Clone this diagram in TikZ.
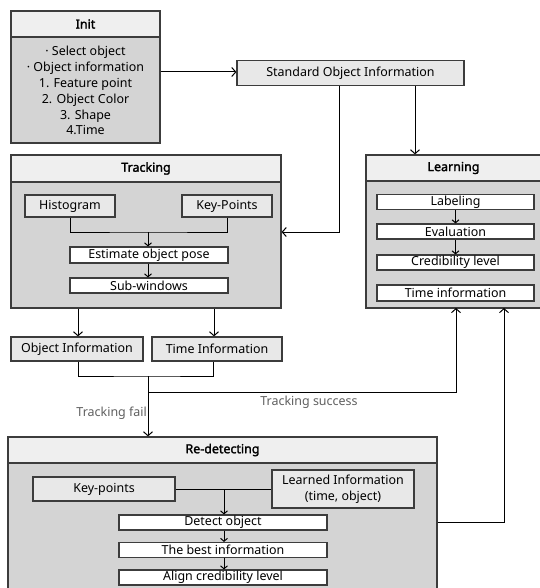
\documentclass[tikz,border=0pt]{standalone}
\usepackage{fontspec}
\setmainfont{Noto Sans}[AutoFakeBold=2]
\usetikzlibrary{arrows.meta}
\definecolor{titlefill}{HTML}{EFEFEF}
\definecolor{bodyfill}{HTML}{D4D4D4}
\definecolor{smallfill}{HTML}{E8E8E8}
\definecolor{edge}{HTML}{3C3C3C}
\definecolor{labelgray}{HTML}{606060}
\begin{document}
\begin{tikzpicture}[x=1bp,y=-1bp,
  every node/.style={font=\fontsize{12.5}{16}\selectfont, inner sep=0pt, text=black},
  frame/.style={draw=edge, line width=1.2bp, rectangle, inner sep=0pt},
  titlebox/.style={frame, fill=titlefill, font=\fontsize{12.5}{14}\selectfont\bfseries},
  bodybox/.style={frame, fill=bodyfill},
  graybox/.style={frame, fill=smallfill},
  whitebox/.style={frame, fill=white, line width=1.1bp},
  conn/.style={draw=black, line width=1bp},
  arr/.style={conn, -{Straight Barb[length=4bp,width=9bp]}},
  sarr/.style={conn, -{Straight Barb[length=3bp,width=7bp]}},
  lab/.style={text=labelgray}
]
\clip (0,0) rectangle (540,588);
\fill[white] (0,0) rectangle (540,588);

% Init
\node[bodybox, minimum width=149bp, minimum height=106bp] (initbody) at (85.5,90) {};
\node[titlebox, minimum width=149bp, minimum height=26bp] (inittitle) at (85.5,24) {Init};
\node[align=center] (inittext) at (85.5,90.5) {· Select object\\ · Object information\\ 1. Feature point\\ 2. Object Color\\ 3. Shape\\ 4.Time};

% Standard object information
\node[graybox, minimum width=227bp, minimum height=25bp] (std) at (350.5,73) {Standard Object Information};

% Tracking
\node[bodybox, minimum width=270bp, minimum height=126bp] (trbody) at (146,245) {};
\node[titlebox, minimum width=270bp, minimum height=27bp] (trtitle) at (146,168.5) {Tracking};
\node[graybox, minimum width=90bp, minimum height=22bp] (hist) at (70,206) {Histogram};
\node[graybox, minimum width=90bp, minimum height=22bp] (kp) at (227,206) {Key-Points};
\node[whitebox, minimum width=158bp, minimum height=16bp] (est) at (149,255) {Estimate object pose};
\node[whitebox, minimum width=158bp, minimum height=15bp] (sub) at (149,285.5) {Sub-windows};

% Learning
\node[bodybox, minimum width=175bp, minimum height=127bp] (lbody) at (453.5,244.5) {};
\node[titlebox, minimum width=175bp, minimum height=26bp] (ltitle) at (453.5,168) {Learning};
\node[whitebox, minimum width=157bp, minimum height=15bp] (labl) at (455.5,202) {Labeling};
\node[whitebox, minimum width=157bp, minimum height=15bp] (eval) at (455.5,231.5) {Evaluation};
\node[whitebox, minimum width=157bp, minimum height=15bp] (cred) at (455.5,262.5) {Credibility level};
\node[whitebox, minimum width=157bp, minimum height=16bp] (timei) at (455.5,293) {Time information};

% Tracking outputs
\node[graybox, minimum width=132bp, minimum height=24bp] (oi) at (77,349) {Object Information};
\node[graybox, minimum width=130bp, minimum height=24bp] (ti) at (217,349) {Time Information};

% Re-detecting
\node[bodybox, minimum width=429bp, minimum height=140bp] (rbody) at (222.5,533) {};
\node[titlebox, minimum width=429bp, minimum height=26bp] (rtitle) at (222.5,450) {Re-detecting};
\node[graybox, minimum width=142bp, minimum height=24bp] (rkp) at (104,489) {Key-points};
\node[graybox, minimum width=142bp, minimum height=38bp, align=center] (learned) at (343,489) {Learned Information\\(time, object)};
\node[whitebox, minimum width=208bp, minimum height=15bp] (det) at (223,522.5) {Detect object};
\node[whitebox, minimum width=208bp, minimum height=15bp] (best) at (223,550) {The best information};
\node[whitebox, minimum width=208bp, minimum height=15bp] (align) at (223,577.5) {Align credibility level};

% coordinates
\coordinate (trmerge) at (148,232);
\coordinate (outjoin) at (148,376);
\coordinate (split) at (148,392);
\coordinate (rmerge) at (224,489);
\coordinate (lin1) at (456,308);
\coordinate (lin2) at (504,308);

% connectors
\draw[arr] (initbody.east |- 0,72) -- (std.west |- 0,72);
\draw[arr] ([xshift=64.5bp]std.south) -- ([xshift=64.5bp]std.south |- ltitle.north);
\draw[arr] ([xshift=-11.5bp]std.south) |- (trbody.east |- trmerge);
\draw[conn] (hist.south) |- (trmerge) -| (kp.south);
\draw[sarr] (trmerge) -- (est.north -| trmerge);
\draw[sarr] (est.south -| trmerge) -- (sub.north -| trmerge);

\draw[sarr] (labl.south) -- (eval.north);
\draw[sarr] (eval.south) -- (cred.north);

\draw[arr] ([xshift=1bp]oi.north |- trbody.south) -- ([xshift=1bp]oi.north);
\draw[arr] ([xshift=-3bp]ti.north |- trbody.south) -- ([xshift=-3bp]ti.north);
\draw[conn] ([xshift=1bp]oi.south) |- (outjoin) -| ([xshift=-4bp]ti.south);
\draw[arr] (outjoin) -- (outjoin |- rtitle.north);
\draw[arr] (split) -| (lin1);
\draw[arr] (rbody.east |- det) -| (lin2);

\draw[conn] (rkp.east) -- (learned.west);
\draw[sarr] (rmerge) -- (det.north -| rmerge);
\draw[sarr] (det.south -| rmerge) -- (best.north -| rmerge);
\draw[sarr] (best.south -| rmerge) -- (align.north -| rmerge);

% labels
\node[lab, anchor=east] (failab) at (147,413) {Tracking fail};
\node[lab] (succlab) at (309,402) {Tracking success};
\end{tikzpicture}
\end{document}
